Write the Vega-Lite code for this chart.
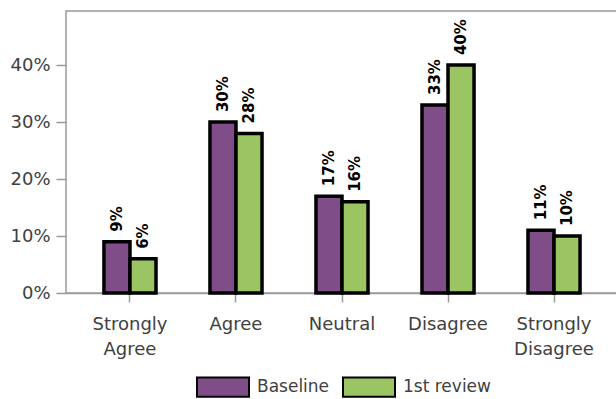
{
  "$schema": "https://vega.github.io/schema/vega-lite/v6.json",
  "width": 552,
  "height": 282,
  "autosize": {"type": "none"},
  "padding": {"left": 66, "top": 11, "right": 0, "bottom": 106},
  "config": {
    "font": "DejaVu Sans",
    "view": {"stroke": "#9a9a9a", "strokeWidth": 1.5},
    "axis": {"domainColor": "#9a9a9a", "tickColor": "#9a9a9a", "domainWidth": 1.5, "tickWidth": 1.5, "labelColor": "#404040", "labelFontSize": 18, "grid": false, "title": null}
  },
  "data": {
    "values": [
      {"category": "Strongly Agree", "series": "Baseline", "value": 0.09},
      {"category": "Strongly Agree", "series": "1st review", "value": 0.06},
      {"category": "Agree", "series": "Baseline", "value": 0.30},
      {"category": "Agree", "series": "1st review", "value": 0.28},
      {"category": "Neutral", "series": "Baseline", "value": 0.17},
      {"category": "Neutral", "series": "1st review", "value": 0.16},
      {"category": "Disagree", "series": "Baseline", "value": 0.33},
      {"category": "Disagree", "series": "1st review", "value": 0.40},
      {"category": "Strongly Disagree", "series": "Baseline", "value": 0.11},
      {"category": "Strongly Disagree", "series": "1st review", "value": 0.10}
    ]
  },
  "encoding": {
    "x": {
      "field": "category", "type": "nominal",
      "sort": ["Strongly Agree", "Agree", "Neutral", "Disagree", "Strongly Disagree"],
      "scale": {"paddingInner": 0.509, "paddingOuter": 0.358},
      "axis": {"labelAngle": 0, "tickSize": 9, "labelPadding": 13, "labelLineHeight": 25, "labelExpr": "split(datum.label, ' ')", "domain": true}
    },
    "xOffset": {"field": "series", "type": "nominal", "sort": ["Baseline", "1st review"], "scale": {"paddingInner": 0, "paddingOuter": 0}},
    "y": {
      "field": "value", "type": "quantitative",
      "scale": {"domain": [0, 0.495], "nice": false},
      "axis": {"format": ".0%", "values": [0, 0.1, 0.2, 0.3, 0.4], "tickSize": 10, "labelPadding": 6, "domain": false}
    }
  },
  "layer": [
    {
      "mark": {"type": "bar", "stroke": "black", "strokeWidth": 3.5},
      "encoding": {
        "fill": {
          "field": "series", "type": "nominal",
          "scale": {"domain": ["Baseline", "1st review"], "range": ["#7f4d88", "#9bc463"]},
          "legend": {
            "orient": "none", "direction": "horizontal", "legendX": 130, "legendY": 349,
            "title": null, "symbolType": "M-1,-0.37H1V0.37H-1Z", "symbolSize": 2704,
            "symbolStrokeColor": "black", "symbolStrokeWidth": 2, "symbolOpacity": 1,
            "labelFontSize": 17, "labelColor": "#404040", "labelOffset": 7, "columnPadding": 9
          }
        }
      }
    },
    {
      "mark": {"type": "text", "angle": 270, "align": "left", "baseline": "middle", "dx": 10, "fontSize": 15, "fontWeight": "bold", "color": "black"},
      "encoding": {
        "text": {"field": "value", "type": "quantitative", "format": ".0%"}
      }
    }
  ]
}
